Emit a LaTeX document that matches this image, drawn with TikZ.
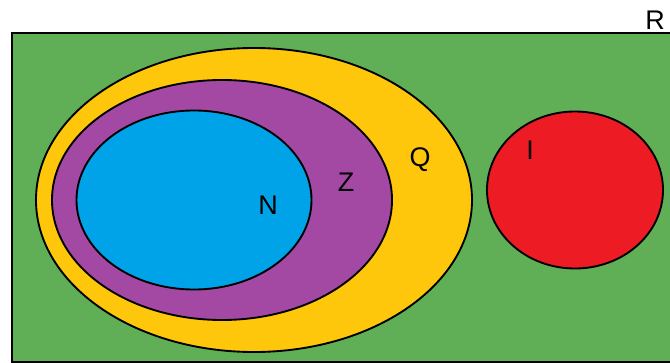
\documentclass[tikz,border=0pt]{standalone}
\usepackage{fontspec}
\setmainfont{Liberation Sans}
\usetikzlibrary{shapes.geometric}
\definecolor{setR}{RGB}{96,174,86}
\definecolor{setQ}{RGB}{255,199,12}
\definecolor{setZ}{RGB}{163,73,164}
\definecolor{setN}{RGB}{0,162,232}
\definecolor{setI}{RGB}{237,28,36}

\begin{document}
\begin{tikzpicture}[
  x=0.03cm, y=-0.03cm,
  font=\fontsize{23}{26}\selectfont,
  set/.style={draw, ellipse, line width=1.6pt, inner sep=0pt},
  lbl/.style={inner sep=0pt}
]
\useasboundingbox (0,0) rectangle (670,363);
% universe R
\fill[setR] (12,33) rectangle (690,362);
\draw[line width=2.4pt] (690,33) -- (12,33) -- (12,362) -- (690,362);
\node[lbl] (labR) at (655,20) {R};
% nested sets
\node[set, fill=setQ, minimum width=13.08cm, minimum height=9.12cm] (Q) at (254,200) {};
\node[set, fill=setZ, minimum width=10.2cm, minimum height=7.2cm] (Z) at (222,200) {};
\node[set, fill=setN, minimum width=7.05cm, minimum height=5.37cm] (N) at (194,200) {};
% irrationals
\node[set, fill=setI, minimum width=5.28cm, minimum height=4.71cm] (I) at (575,190) {};
\node[lbl] (labN) at (268,205) {N};
\node[lbl] (labZ) at (346,182) {Z};
\node[lbl] (labQ) at (420,160) {Q};
\node[lbl] (labI) at (530,150) {I};
\end{tikzpicture}
\end{document}
